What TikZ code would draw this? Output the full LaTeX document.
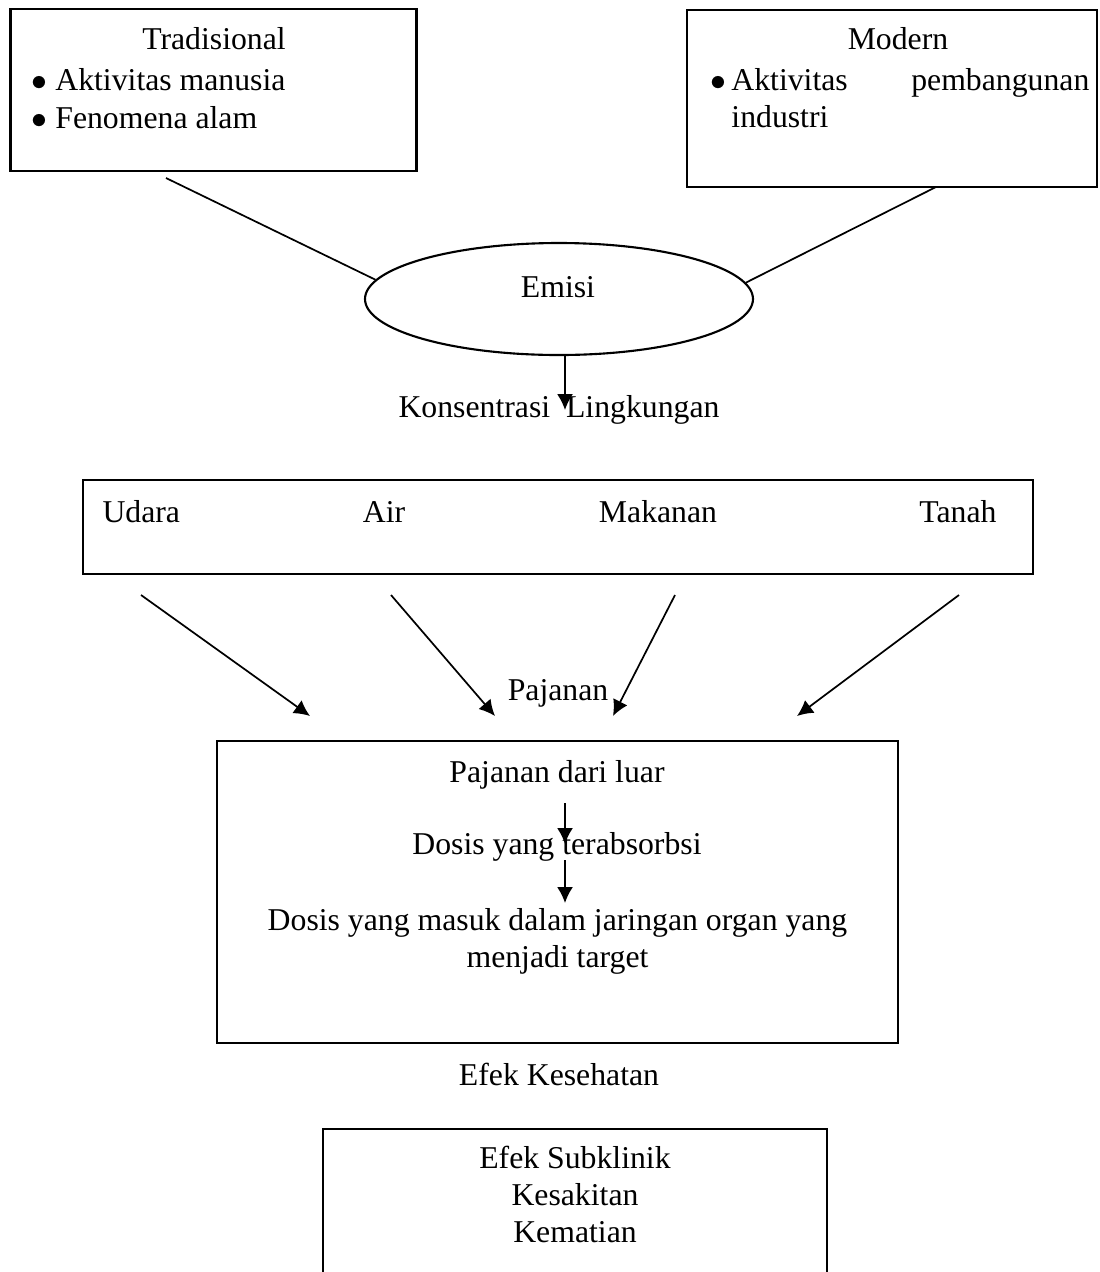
\documentclass[tikz,border=0pt]{standalone}
\usepackage{fontspec}
\setmainfont{Liberation Serif}
\usetikzlibrary{shapes,arrows.meta,calc,positioning}

\newcommand{\pxu}{0.378pt}
\newcommand{\titik}{$\bullet$}

\begin{document}
\begin{tikzpicture}[x=\pxu,y=-\pxu,
	every node/.style={font=\fontsize{12}{14.1}\selectfont},
	kotak/.style={draw,line width=0.8pt,inner sep=0pt},
	elips/.style={draw,ellipse,line width=0.8pt,inner sep=0pt},
	teks/.style={inner sep=0pt,anchor=base},
	garis/.style={line width=0.65pt},
	panah/.style={line width=0.65pt,-{Latex[length=6pt,width=6pt]}}]
	\useasboundingbox (0,0) rectangle (1099,1272);

	\node[kotak,minimum width=406*\pxu,minimum height=162*\pxu]	(trad)		at (213.5,90)		{};
	\node[kotak,minimum width=410*\pxu,minimum height=177*\pxu]	(modern)	at (892,98.5)		{};
	\node[elips,minimum width=388*\pxu,minimum height=112*\pxu]	(emisi)		at (559,299)		{};
	\node[kotak,minimum width=950*\pxu,minimum height=94*\pxu]	(media)		at (558,527)		{};
	\node[kotak,minimum width=681*\pxu,minimum height=302*\pxu]	(paparan)	at (557.5,892)		{};
	\node[kotak,minimum width=504*\pxu,minimum height=191*\pxu]	(efek)		at (575,1224.5)		{};

	\node[teks]					(tradjudul)	at (214,49)		{Tradisional};
	\node[teks,anchor=base west]	(trad1)		at (30.5,90)	{\titik\hspace{3.2pt}Aktivitas manusia};
	\node[teks,anchor=base west]	(trad2)		at (30.5,128)	{\titik\hspace{3.2pt}Fenomena alam};
	\node[teks]					(modjudul)	at (898,49)		{Modern};
	\node[teks,anchor=base west]	(mod1)		at (710,90)		{\titik\hspace{1.9pt}\parbox[t]{135.3pt}{\hyphenpenalty=10000 Aktivitas pembangunan industri}};
	\node[teks]					(emisitxt)	at (558,297)	{Emisi};
	\node[teks]					(konsen)	at (559,417)	{Konsentrasi~ Lingkungan};

	\node[teks,anchor=base west]	(udara)		at (102,522)	{Udara};
	\node[teks]					(air)		at (384,522)	{Air};
	\node[teks]					(makanan)	at (658,522)	{Makanan};
	\node[teks,anchor=base east]	(tanah)		at (997,522)	{Tanah};
	\node[teks]					(pajanan)	at (558,700)	{Pajanan};

	\node[teks]					(luar)		at (557,782)	{Pajanan dari luar};
	\node[teks]					(serap)		at (557,854)	{Dosis yang terabsorbsi};
	\node[teks]					(target)	at (557.5,930)	{\begin{tabular}[t]{@{}c@{}}Dosis yang masuk dalam jaringan organ yang\\menjadi target\end{tabular}};
	\node[teks]					(kesehatan)	at (559,1085)	{Efek Kesehatan};
	\node[teks]					(hasil)		at (575,1168)	{\begin{tabular}[t]{@{}c@{}}Efek Subklinik\\Kesakitan\\Kematian\end{tabular}};

	\coordinate	(t1)	at (166,178);
	\coordinate	(m1)	at (936,187);
	\coordinate	(k1)	at (565,410);
	\coordinate	(u1)	at (141,595);
	\coordinate	(u2)	at (310,716);
	\coordinate	(a1)	at (391,595);
	\coordinate	(a2)	at (495,716);
	\coordinate	(n1)	at (675,595);
	\coordinate	(n2)	at (613,716);
	\coordinate	(h1)	at (959,595);
	\coordinate	(h2)	at (797,716);
	\coordinate	(d1)	at (565,803);
	\coordinate	(d2)	at (565,844);
	\coordinate	(d3)	at (565,860);
	\coordinate	(d4)	at (565,903);

	\draw[garis]	(t1) -- (emisi.174.8);
	\draw[garis]	(m1) -- (emisi.5.8);
	\draw[panah]	([xshift=6*\pxu]emisi.south) -- (k1);
	\draw[panah]	(u1) -- (u2);
	\draw[panah]	(a1) -- (a2);
	\draw[panah]	(n1) -- (n2);
	\draw[panah]	(h1) -- (h2);
	\draw[panah]	(d1) -- (d2);
	\draw[panah]	(d3) -- (d4);
\end{tikzpicture}
\end{document}
